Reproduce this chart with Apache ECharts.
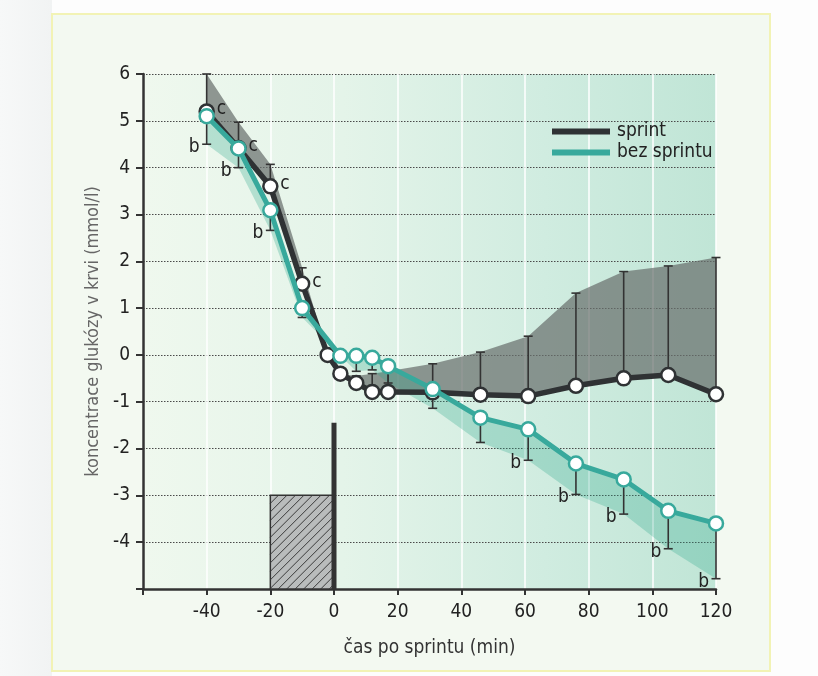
<!DOCTYPE html>
<html>
<head>
<meta charset="utf-8">
<script src="https://cdn.jsdelivr.net/npm/echarts@6/dist/echarts.min.js"></script>
<style>
html,body{margin:0;padding:0;background:#fdfdfd;}
#chart{width:818px;height:676px;}
</style>
</head>
<body>
<div id="chart"></div>
<script>
// ---- data ----
const sprintT   = [-40, -30, -20, -10, -2, 2, 7, 12, 17, 31, 46, 61, 76, 91, 105, 120];
const sprintV   = [5.2, 4.42, 3.6, 1.52, 0, -0.4, -0.6, -0.79, -0.79, -0.8, -0.85, -0.88, -0.66, -0.5, -0.43, -0.84];
const sprintUp  = [6.0, 4.97, 4.07, 1.86, null, null, -0.45, -0.4, -0.35, -0.19, 0.06, 0.4, 1.32, 1.78, 1.9, 2.08];
const sprintSig = ['c', 'c', 'c', 'c', '', '', '', '', '', '', '', '', '', '', '', ''];

const noSprintT   = [-40, -30, -20, -10, 2, 7, 12, 17, 31, 46, 61, 76, 91, 105, 120];
const noSprintV   = [5.1, 4.41, 3.09, 1.0, -0.02, -0.02, -0.06, -0.24, -0.73, -1.34, -1.59, -2.32, -2.66, -3.33, -3.6];
const noSprintLow = [4.5, 4.0, 2.66, 0.8, null, -0.35, -0.32, -0.6, -1.14, -1.87, -2.25, -2.98, -3.4, -4.14, -4.78];
const noSprintSig = ['b', 'b', 'b', '', '', '', '', '', '', '', 'b', 'b', 'b', 'b', 'b'];

const sprintBlock = [-20, 0, -3, -5];   // exercise period: x from, x to, y top, y bottom
const sprintMark  = [0, -1.45, -5];     // vertical bar at sprint end

const xTicks = [-60, -40, -20, 0, 20, 40, 60, 80, 100, 120];
const yTicks = [-5, -4, -3, -2, -1, 0, 1, 2, 3, 4, 5, 6];

const seriesNames = ['sprint', 'bez sprintu'];
const xName = 'čas po sprintu (min)';
const yName = 'koncentrace glukózy v krvi (mmol/l)';

// ---- styles ----
const FONT = "'Liberation Sans Narrow','DejaVu Sans Condensed','Roboto Condensed',sans-serif";
const DARK = '#2f3234';
const TEAL = '#38a99c';

const chart = echarts.init(document.getElementById('chart'), null, {renderer: 'canvas'});

function bandItem(ts, vs, es, fill) {
  return function (params, api) {
    const top = [], bot = [];
    for (let i = 0; i < ts.length; i++) {
      const e = es[i] == null ? vs[i] : es[i];
      top.push(api.coord([ts[i], e]));
      bot.push(api.coord([ts[i], vs[i]]));
    }
    return {type: 'polygon', shape: {points: top.concat(bot.reverse())}, style: {fill: fill}};
  };
}

function errItem(ts, vs, es, sig, up) {
  return function (params, api) {
    const children = [];
    for (let i = 0; i < ts.length; i++) {
      if (es[i] == null) continue;
      const p0 = api.coord([ts[i], vs[i]]);
      const p1 = api.coord([ts[i], es[i]]);
      children.push({type: 'line', shape: {x1: p0[0], y1: p0[1], x2: p1[0], y2: p1[1]}, style: {stroke: '#333', lineWidth: 1.6}});
      children.push({type: 'line', shape: {x1: p1[0] - 4.5, y1: p1[1], x2: p1[0] + 4.5, y2: p1[1]}, style: {stroke: '#333', lineWidth: 1.6}});
      if (!up && sig[i]) {
        children.push({type: 'text', style: {text: sig[i], x: p1[0] - 7, y: p1[1] + 3, align: 'right', verticalAlign: 'middle', font: '19px ' + FONT, fill: '#222'}});
      }
    }
    if (up) {
      for (let i = 0; i < ts.length; i++) {
        if (!sig[i]) continue;
        const p = api.coord([ts[i], vs[i]]);
        children.push({type: 'text', style: {text: sig[i], x: p[0] + 10, y: p[1] - 2, align: 'left', verticalAlign: 'middle', font: '19px ' + FONT, fill: '#222'}});
      }
    }
    return {type: 'group', children: children};
  };
}

function blockItem(params, api) {
  const a = api.coord([sprintBlock[0], sprintBlock[2]]);
  const b = api.coord([sprintBlock[1], sprintBlock[3]]);
  const x0 = a[0], y0 = a[1], x1 = b[0], y1 = b[1];
  const children = [{type: 'rect', shape: {x: x0, y: y0, width: x1 - x0, height: y1 - y0}, style: {fill: '#b9bcbc', stroke: '#333', lineWidth: 1.5}}];
  for (let c = x0 + y0 + 8; c < x1 + y1; c += 8.5) {
    const sx = Math.max(x0, c - y1), ex = Math.min(x1, c - y0);
    if (ex <= sx) continue;
    children.push({type: 'line', shape: {x1: sx, y1: c - sx, x2: ex, y2: c - ex}, style: {stroke: '#3a3a3a', lineWidth: 1}});
  }
  const m0 = api.coord([sprintMark[0], sprintMark[1]]);
  const m1 = api.coord([sprintMark[0], sprintMark[2]]);
  children.push({type: 'line', shape: {x1: m0[0], y1: m0[1], x2: m1[0], y2: m1[1]}, style: {stroke: '#333', lineWidth: 5}});
  return {type: 'group', children: children};
}

const option = {
  animation: false,
  textStyle: {fontFamily: FONT},
  graphic: [
    {type: 'rect', z: -100, shape: {x: 0, y: 0, width: 52, height: 676},
     style: {fill: new echarts.graphic.LinearGradient(0, 0, 1, 0, [{offset: 0, color: '#f7f8f8'}, {offset: 1, color: '#f1f3f3'}])}},
    {type: 'rect', z: -99, shape: {x: 52, y: 14, width: 718, height: 657},
     style: {fill: '#f3f9f1', stroke: '#f2f3b5', lineWidth: 2}}
  ],
  grid: {
    left: 143, right: 102, top: 74, bottom: 87, show: true, borderWidth: 0,
    backgroundColor: new echarts.graphic.LinearGradient(0, 0, 1, 0, [
      {offset: 0, color: '#eff8ee'}, {offset: 0.35, color: '#e4f4e9'},
      {offset: 0.7, color: '#d0ece0'}, {offset: 1, color: '#c0e5d6'}])
  },
  legend: {
    left: 552, top: 122, orient: 'vertical', icon: 'rect', itemWidth: 58, itemHeight: 6, itemGap: 2, padding: 0,
    textStyle: {fontSize: 19, color: '#222', fontFamily: FONT, padding: [0, 0, 0, 2]},
    data: [
      {name: seriesNames[0], itemStyle: {color: DARK, borderWidth: 0}},
      {name: seriesNames[1], itemStyle: {color: TEAL, borderWidth: 0}}
    ]
  },
  xAxis: {
    type: 'value', min: xTicks[0], max: xTicks[xTicks.length - 1], interval: 20,
    name: xName, nameLocation: 'middle', nameGap: 50,
    nameTextStyle: {fontSize: 19, color: '#333', fontFamily: FONT},
    axisLine: {onZero: false, lineStyle: {color: '#333', width: 2.5}},
    axisTick: {length: 6, lineStyle: {color: '#333', width: 2}},
    axisLabel: {fontSize: 19, color: '#222', margin: 14, fontFamily: FONT,
      formatter: v => (v === xTicks[0] ? '' : String(v))},
    splitLine: {show: true, lineStyle: {color: 'rgba(255,255,255,0.75)', width: 2}}
  },
  yAxis: {
    type: 'value', min: yTicks[0], max: yTicks[yTicks.length - 1], interval: 1,
    name: yName, nameLocation: 'middle', nameGap: 40,
    nameTextStyle: {fontSize: 18, color: '#666', fontFamily: FONT},
    axisLine: {show: true, onZero: false, lineStyle: {color: '#333', width: 2.5}},
    axisTick: {show: true, length: 7, lineStyle: {color: '#333', width: 2}},
    axisLabel: {fontSize: 19, color: '#222', margin: 13, fontFamily: FONT,
      formatter: v => (v === yTicks[0] ? '' : String(v))},
    splitLine: {show: true, lineStyle: {color: '#4a4a4a', width: 1.2, type: [1.5, 1.5]}}
  },
  series: [
    {type: 'custom', name: 'band-sprint', z: 1, silent: true, data: [[0, 0]],
     renderItem: bandItem(sprintT, sprintV, sprintUp, 'rgba(105,112,110,0.72)')},
    {type: 'custom', name: 'band-nosprint', z: 1, silent: true, data: [[0, 0]],
     renderItem: bandItem(noSprintT, noSprintV, noSprintLow, 'rgba(40,165,135,0.28)')},
    {type: 'custom', name: 'block', z: 2, silent: true, data: [[0, 0]], renderItem: blockItem},
    {type: 'custom', name: 'err-sprint', z: 3, silent: true, data: [[0, 0]],
     renderItem: errItem(sprintT, sprintV, sprintUp, sprintSig, true)},
    {type: 'custom', name: 'err-nosprint', z: 3, silent: true, data: [[0, 0]],
     renderItem: errItem(noSprintT, noSprintV, noSprintLow, noSprintSig, false)},
    {type: 'line', name: seriesNames[0], z: 4,
     data: sprintT.map((t, i) => [t, sprintV[i]]),
     symbol: 'circle', symbolSize: 14,
     lineStyle: {color: DARK, width: 5.5},
     itemStyle: {color: '#ffffff', borderColor: DARK, borderWidth: 2.5}},
    {type: 'line', name: seriesNames[1], z: 5,
     data: noSprintT.map((t, i) => [t, noSprintV[i]]),
     symbol: 'circle', symbolSize: 14,
     lineStyle: {color: TEAL, width: 5},
     itemStyle: {color: '#ffffff', borderColor: TEAL, borderWidth: 2.5}}
  ]
};
chart.setOption(option);
</script>
</body>
</html>
